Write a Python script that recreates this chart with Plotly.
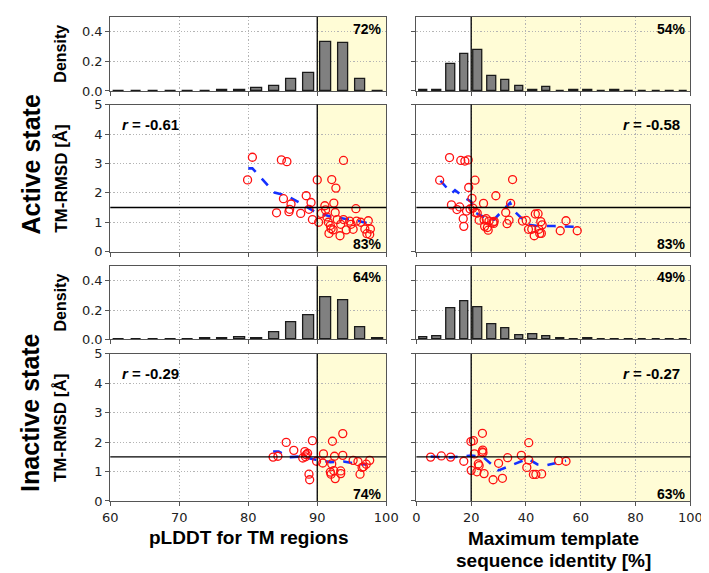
import plotly.graph_objects as go

W, H = 709, 573

# ---------------- data ----------------
plddt_bin_centers = [61.25, 63.75, 66.25, 68.75, 71.25, 73.75, 76.25, 78.75,
                     81.25, 83.75, 86.25, 88.75, 91.25, 93.75, 96.25, 98.75]
act_plddt_density = [0.003, 0.002, 0.002, 0.003, 0.002, 0.002, 0.005, 0.005,
                     0.02, 0.035, 0.08, 0.125, 0.33, 0.325, 0.08, 0.0]
inact_plddt_density = [0.003, 0.002, 0.002, 0.002, 0.003, 0.004, 0.006, 0.012,
                       0.005, 0.045, 0.12, 0.165, 0.29, 0.265, 0.085, 0.004]

ident_bin_centers = [2.5, 7.5, 12.5, 17.5, 22.5, 27.5, 32.5, 37.5, 42.5, 47.5,
                     52.5, 57.5, 62.5, 67.5, 72.5, 77.5, 82.5, 87.5, 92.5, 97.5]
act_ident_density = [0.01, 0.01, 0.18, 0.25, 0.28, 0.10, 0.073, 0.033, 0.008, 0.027,
                     0.002, 0.008, 0.007, 0.003, 0.004, 0.002, 0.001, 0.001, 0.001, 0.001]
inact_ident_density = [0.011, 0.022, 0.213, 0.26, 0.218, 0.104, 0.073, 0.027, 0.036, 0.02,
                       0.004, 0.002, 0.004, 0.002, 0.002, 0.001, 0.001, 0.001, 0.001, 0.001]

act_plddt_x = [79.9, 80.6, 84.8, 85.6, 84.1, 85.1, 85.9, 86.0, 86.2, 87.6, 88.4, 89.1,
               88.8, 89.3, 90.0, 90.2, 91.1, 91.2, 91.4, 91.6, 91.9, 92.0, 92.3, 92.4,
               92.7, 92.6, 92.9, 93.4, 93.3, 93.8, 93.8, 94.2, 94.7, 94.9, 95.2, 95.6,
               95.7, 96.3, 96.9, 97.4, 97.7, 97.2, 97.6, 91.7, 90.6, 92.1]
act_plddt_y = [2.44, 3.21, 3.12, 3.06, 1.32, 1.80, 1.36, 1.44, 1.62, 1.30, 1.90, 1.67,
               1.44, 1.09, 2.44, 1.00, 1.56, 1.42, 1.18, 1.00, 0.89, 0.78, 0.74, 1.65,
               2.16, 1.33, 1.09, 0.93, 0.54, 3.10, 1.09, 0.74, 1.04, 0.93, 0.76, 1.46,
               1.04, 1.00, 0.77, 1.05, 0.77, 0.61, 0.58, 0.62, 1.30, 2.45]
act_plddt_trend_x = [80.0, 80.6, 83.8, 85.5, 87.6, 89.7, 91.8, 93.9, 96.0, 97.5]
act_plddt_trend_y = [2.83, 2.83, 2.01, 1.91, 1.64, 1.35, 1.20, 1.12, 1.04, 0.95]

act_ident_x = [8.5, 12.1, 16.2, 17.7, 18.9, 19.1, 21.4, 12.8, 14.8, 15.8, 17.1, 17.3,
               18.3, 19.6, 20.3, 20.6, 21.5, 22.2, 22.9, 24.5, 24.7, 24.9, 25.5, 25.9,
               26.2, 26.5, 28.0, 28.4, 28.2, 29.0, 32.6, 33.1, 33.8, 34.4, 35.1, 38.7,
               40.1, 40.9, 42.1, 43.0, 43.4, 44.4, 44.7, 45.0, 45.6, 45.4, 45.9, 52.5,
               54.6, 58.7]
act_ident_y = [2.43, 3.20, 3.10, 3.08, 3.12, 2.18, 2.43, 1.59, 1.43, 1.52, 1.12, 0.86,
               1.38, 1.45, 1.81, 1.48, 1.33, 1.31, 1.07, 1.64, 1.08, 0.86, 1.12, 0.82,
               0.73, 1.04, 1.00, 1.03, 0.96, 1.90, 1.33, 0.95, 1.07, 1.64, 2.45, 1.04,
               1.06, 0.76, 0.76, 0.54, 1.28, 1.29, 0.76, 0.62, 0.62, 1.02, 0.91, 0.71,
               1.05, 0.71]
act_ident_trend_x = [8.8, 12.9, 14.1, 17.6, 20.0, 21.8, 26.5, 28.3, 34.2, 35.3, 40.7, 44.2, 50.1, 58.7]
act_ident_trend_y = [2.41, 1.98, 2.09, 1.83, 1.70, 1.31, 1.09, 1.09, 1.66, 1.42, 0.92, 0.87, 0.87, 0.84]

inact_plddt_x = [83.6, 84.3, 85.5, 86.6, 87.9, 88.2, 88.4, 88.6, 88.3, 88.8, 88.9, 89.3,
                 89.9, 90.8, 90.9, 92.1, 92.2, 92.5, 92.0, 92.4, 92.6, 93.4, 93.4, 93.7,
                 93.7, 95.2, 95.9, 96.2, 96.7, 96.5, 97.1, 97.6, 91.9]
inact_plddt_y = [1.49, 1.52, 1.99, 1.72, 1.46, 1.68, 1.57, 1.62, 1.50, 0.91, 0.72, 2.05,
                 1.35, 1.29, 1.60, 1.26, 2.03, 1.52, 0.91, 1.03, 0.76, 0.93, 1.02, 1.55,
                 2.29, 1.38, 1.34, 0.91, 1.16, 1.14, 1.25, 1.38, 0.98]
inact_plddt_trend_x = [83.6, 84.4, 86.0, 87.7, 89.8, 91.9, 93.8, 96.1, 97.2]
inact_plddt_trend_y = [1.68, 1.68, 1.49, 1.51, 1.40, 1.32, 1.34, 1.25, 1.24]

inact_ident_x = [5.2, 9.1, 12.5, 17.3, 19.9, 20.8, 20.0, 21.2, 22.1, 22.6, 22.9, 24.0,
                 24.2, 24.3, 24.1, 24.7, 28.0, 30.0, 31.4, 33.3, 38.3, 41.0, 41.0, 40.3,
                 42.7, 43.6, 45.7, 51.9, 54.6]
inact_ident_y = [1.49, 1.53, 1.49, 1.35, 2.02, 2.05, 1.04, 1.60, 0.99, 1.26, 1.20, 1.67,
                 1.73, 1.64, 2.30, 0.93, 0.72, 1.28, 0.77, 1.47, 1.55, 1.98, 1.39, 1.14,
                 0.90, 0.90, 0.92, 1.37, 1.35]
inact_ident_trend_x = [5.2, 12.3, 20.0, 24.1, 30.0, 40.7, 44.2, 47.7, 54.6]
inact_ident_trend_y = [1.51, 1.48, 1.54, 1.51, 1.04, 1.44, 1.24, 1.22, 1.37]

hist_pct = ["72%", "54%", "64%", "49%"]
scatter_pct = ["83%", "83%", "74%", "63%"]
r_values = ["-0.61", "-0.58", "-0.29", "-0.27"]
plddt_ticks = [60, 70, 80, 90, 100]
ident_ticks = [0, 20, 40, 60, 80, 100]

# ---------------- layout geometry (pixels) ----------------
col_px = [(97, 381), (412, 694)]
row_px = [(2, 78), (92, 243), (258, 333), (348, 499)]


def xdom(c):
    a, b = col_px[c]
    return [a / W, b / W]


def ydom(r):
    a, b = row_px[r]
    return [1 - b / H, 1 - a / H]


fig = go.Figure()

AX = "#555555"
GRID = "#b4b4b4"
GRIDDASH = "1.2px,2px"
TICKFONT = dict(family="DejaVu Sans", size=13, color="#222222")
BOLD = "Liberation Sans, Arial, sans-serif"

panels = []
for r in range(4):
    for c in range(2):
        panels.append((r, c))

hist_data = {
    (0, 0): (plddt_bin_centers, act_plddt_density, 1.55),
    (0, 1): (ident_bin_centers, act_ident_density, 3.1),
    (2, 0): (plddt_bin_centers, inact_plddt_density, 1.55),
    (2, 1): (ident_bin_centers, inact_ident_density, 3.1),
}
scat_data = {
    (1, 0): (act_plddt_x, act_plddt_y, act_plddt_trend_x, act_plddt_trend_y),
    (1, 1): (act_ident_x, act_ident_y, act_ident_trend_x, act_ident_trend_y),
    (3, 0): (inact_plddt_x, inact_plddt_y, inact_plddt_trend_x, inact_plddt_trend_y),
    (3, 1): (inact_ident_x, inact_ident_y, inact_ident_trend_x, inact_ident_trend_y),
}

shapes = []
annotations = []
hi = 0
si = 0
for i, (r, c) in enumerate(panels):
    n = i + 1
    xa = "x" if n == 1 else f"x{n}"
    ya = "y" if n == 1 else f"y{n}"
    xkey = "xaxis" if n == 1 else f"xaxis{n}"
    ykey = "yaxis" if n == 1 else f"yaxis{n}"
    is_hist = r in (0, 2)
    thr = 90 if c == 0 else 20
    xmin, xmax = (60, 100) if c == 0 else (0, 100)
    ticks = plddt_ticks if c == 0 else ident_ticks

    if is_hist:
        bx, by, bw = hist_data[(r, c)]
        fig.add_trace(go.Bar(x=bx, y=by, width=bw, xaxis=xa, yaxis=ya,
                             marker=dict(color="#808080", line=dict(color="#1a1a1a", width=1.3)),
                             showlegend=False, hoverinfo="skip"))
        yr = [0, 0.5]
        ytv = [0, 0.2, 0.4]
        ytt = ["0.0", "0.2", "0.4"]
    else:
        sx, sy, tx, ty = scat_data[(r, c)]
        fig.add_trace(go.Scatter(x=tx, y=ty, mode="lines", xaxis=xa, yaxis=ya,
                                 line=dict(color="#1530ff", width=2.6, dash="dash"),
                                 showlegend=False, hoverinfo="skip"))
        fig.add_trace(go.Scatter(x=sx, y=sy, mode="markers", xaxis=xa, yaxis=ya,
                                 marker=dict(symbol="circle-open", size=8, color="#ff1010",
                                             line=dict(color="#ff1010", width=1.3)),
                                 showlegend=False, hoverinfo="skip"))
        yr = [0, 5]
        ytv = [0, 1, 2, 3, 4, 5]
        ytt = ["0", "1", "2", "3", "4", "5"]

    fig.layout[xkey] = dict(domain=xdom(c), anchor=ya, range=[xmin, xmax],
                            tickvals=ticks, ticktext=[str(t) for t in ticks],
                            showticklabels=(r == 3), tickfont=TICKFONT,
                            ticks="outside", ticklen=4, tickcolor=AX,
                            showline=True, linecolor=AX, linewidth=1.2, mirror=True,
                            showgrid=True, gridcolor=GRID, griddash=GRIDDASH, gridwidth=1,
                            zeroline=False, fixedrange=True)
    fig.layout[ykey] = dict(domain=ydom(r), anchor=xa, range=yr,
                            tickvals=ytv, ticktext=ytt,
                            showticklabels=(c == 0), tickfont=TICKFONT,
                            ticks="outside", ticklen=4, tickcolor=AX,
                            showline=True, linecolor=AX, linewidth=1.2, mirror=True,
                            showgrid=True, gridcolor=GRID, griddash=GRIDDASH, gridwidth=1,
                            zeroline=False, fixedrange=True)

    shapes.append(dict(type="rect", xref=xa, yref=f"{ya} domain", x0=thr, x1=xmax, y0=0, y1=1,
                       fillcolor="#fffcd6", line=dict(width=0), layer="below"))
    shapes.append(dict(type="line", xref=xa, yref=f"{ya} domain", x0=thr, x1=thr, y0=0, y1=1,
                       line=dict(color="black", width=1.3)))
    if is_hist:
        annotations.append(dict(xref=f"{xa} domain", yref=f"{ya} domain", x=0.992,
                                y=0.842 if r == 0 else 0.853,
                                xanchor="right", yanchor="middle", showarrow=False,
                                text=f"<b>{hist_pct[hi]}</b>",
                                font=dict(family=BOLD, size=14, color="black")))
        hi += 1
    else:
        shapes.append(dict(type="line", xref=f"{xa} domain", yref=ya, x0=0, x1=1, y0=1.5, y1=1.5,
                           line=dict(color="black", width=1.3)))
        annotations.append(dict(xref=f"{xa} domain", yref=f"{ya} domain", x=0.992, y=0.05,
                                xanchor="right", yanchor="middle", showarrow=False,
                                text=f"<b>{scatter_pct[si]}</b>",
                                font=dict(family=BOLD, size=14, color="black")))
        if c == 0:
            annotations.append(dict(xref=f"{xa} domain", yref=f"{ya} domain", x=0.036, y=0.868,
                                    xanchor="left", yanchor="middle", showarrow=False,
                                    text=f"<b><i>r</i> = {r_values[si]}</b>",
                                    font=dict(family=BOLD, size=15, color="black")))
        else:
            annotations.append(dict(xref=f"{xa} domain", yref=f"{ya} domain", x=0.968, y=0.868,
                                    xanchor="right", yanchor="middle", showarrow=False,
                                    text=f"<b><i>r</i> = {r_values[si]}</b>",
                                    font=dict(family=BOLD, size=15, color="black")))
        si += 1

# y axis titles
for r, label, fs in [(0, "Density", 16), (1, "TM-RMSD [Å]", 17),
                     (2, "Density", 16), (3, "TM-RMSD [Å]", 17)]:
    a, b = row_px[r]
    annotations.append(dict(xref="paper", yref="paper", x=46 / W, y=1 - (a + b) / 2 / H,
                            xanchor="center", yanchor="middle", textangle=-90, showarrow=False,
                            text=f"<b>{label}</b>", font=dict(family=BOLD, size=fs, color="black")))
# state labels
for yc, label in [(154, "Active state"), (408, "Inactive state")]:
    annotations.append(dict(xref="paper", yref="paper", x=15 / W, y=1 - yc / H,
                            xanchor="center", yanchor="middle", textangle=-90, showarrow=False,
                            text=f"<b>{label}</b>", font=dict(family=BOLD, size=25, color="black")))
# x axis titles
annotations.append(dict(xref="paper", yref="paper", x=(97 + 381) / 2 / W, y=1 - 537 / H,
                        xanchor="center", yanchor="middle", showarrow=False,
                        text="<b>pLDDT for TM regions</b>",
                        font=dict(family=BOLD, size=19, color="black")))
annotations.append(dict(xref="paper", yref="paper", x=(412 + 694) / 2 / W, y=1 - 538 / H,
                        xanchor="center", yanchor="middle", showarrow=False,
                        text="<b>Maximum template</b>",
                        font=dict(family=BOLD, size=19, color="black")))
annotations.append(dict(xref="paper", yref="paper", x=(412 + 694) / 2 / W, y=1 - 560 / H,
                        xanchor="center", yanchor="middle", showarrow=False,
                        text="<b>sequence identity [%]</b>",
                        font=dict(family=BOLD, size=19, color="black")))

fig.update_layout(width=W, height=H, margin=dict(l=0, r=0, t=0, b=0),
                  paper_bgcolor="white", plot_bgcolor="white",
                  shapes=shapes, annotations=annotations, bargap=0, showlegend=False)

fig.write_html("out.html")
